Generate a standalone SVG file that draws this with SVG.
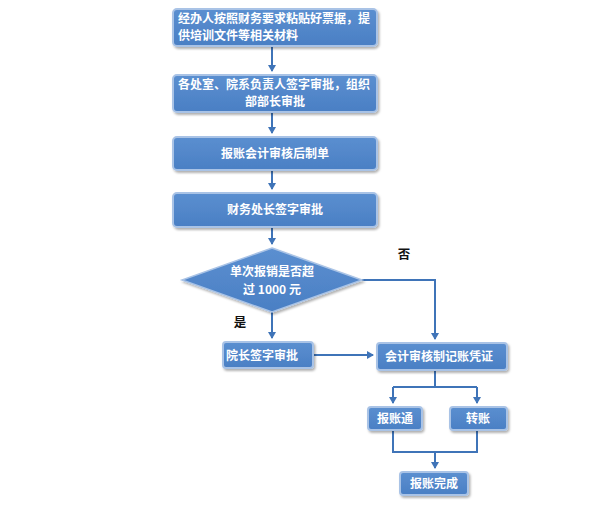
<svg xmlns="http://www.w3.org/2000/svg" width="600" height="509" viewBox="0 0 600 509">
<defs>
<linearGradient id="g" x1="0" y1="0" x2="0" y2="1">
<stop offset="0" stop-color="#5b8fd0"/>
<stop offset="1" stop-color="#4a7fc4"/>
</linearGradient>
<marker id="ah" markerWidth="8" markerHeight="8" refX="6" refY="4" orient="auto" markerUnits="userSpaceOnUse">
<path d="M0,0 L7,4 L0,8 Z" fill="#3f74b8"/>
</marker>
<filter id="sh" x="-10%" y="-20%" width="130%" height="150%">
<feDropShadow dx="1.5" dy="2" stdDeviation="1.2" flood-color="#000" flood-opacity="0.3"/>
</filter>
</defs>
<style>
.box{fill:url(#g);stroke:#a9c3e6;stroke-width:2;filter:url(#sh)}
.t{fill:#fff;font-family:"Noto Sans CJK SC","Liberation Sans",sans-serif;font-weight:bold;font-size:12px}
.c{text-anchor:middle}
.l{fill:#111;font-family:"Noto Sans CJK SC","Liberation Sans",sans-serif;font-weight:bold;font-size:12.5px}
.e{fill:none;stroke:#3f74b8;stroke-width:2}
</style>
<rect width="600" height="509" fill="#fff"/>
<g id="connectors">
<path class="e" d="M272,46 V71" marker-end="url(#ah)"/>
<path class="e" d="M272,113 V133" marker-end="url(#ah)"/>
<path class="e" d="M272,171 V189" marker-end="url(#ah)"/>
<path class="e" d="M272,228 V244" marker-end="url(#ah)"/>
<path class="e" d="M272,312 V338" marker-end="url(#ah)"/>
<path class="e" d="M362,280 H435 V339" marker-end="url(#ah)"/>
<path class="e" d="M314,355 H373" marker-end="url(#ah)"/>
<path class="e" d="M435,371 V387 H393 M435,387 H477"/>
<path class="e" d="M393,387 V403" marker-end="url(#ah)"/>
<path class="e" d="M477,387 V403" marker-end="url(#ah)"/>
<path class="e" d="M393,431 V452 H477 V431"/>
<path class="e" d="M435,452 V468" marker-end="url(#ah)"/>
</g>
<g id="n1"><rect class="box" x="173" y="9" width="204" height="37" rx="4"/>
<text class="t" x="178" y="23">经办人按照财务要求粘贴好票据，提</text>
<text class="t" x="178" y="40">供培训文件等相关材料</text></g>
<g id="n2"><rect class="box" x="173" y="75" width="204" height="37" rx="4"/>
<text class="t" x="178" y="89">各处室、院系负责人签字审批，组织</text>
<text class="t c" x="275" y="106">部部长审批</text></g>
<g id="n3"><rect class="box" x="173" y="137" width="204" height="33" rx="4"/>
<text class="t c" x="275" y="158">报账会计审核后制单</text></g>
<g id="n4"><rect class="box" x="173" y="193" width="204" height="34" rx="4"/>
<text class="t c" x="275" y="214">财务处长签字审批</text></g>
<g id="n5"><path class="box" d="M272,248 L362,280 L272,312 L182,280 Z" style="stroke-width:1.5"/>
<text class="t c" x="272" y="276">单次报销是否超</text>
<text class="t c" x="272" y="294">过 1000 元</text></g>
<g id="n6"><rect class="box" x="223" y="342" width="90" height="26" rx="3"/>
<text class="t c" x="262" y="360">院长签字审批</text></g>
<g id="n7"><rect class="box" x="377" y="343" width="130" height="27" rx="3"/>
<text class="t c" x="439" y="361">会计审核制记账凭证</text></g>
<g id="n8"><rect class="box" x="368" y="407" width="54" height="23" rx="3"/>
<text class="t c" x="395" y="423">报账通</text></g>
<g id="n9"><rect class="box" x="450" y="407" width="57" height="23" rx="3"/>
<text class="t c" x="478" y="423">转账</text></g>
<g id="n10"><rect class="box" x="400" y="472" width="68" height="23" rx="3"/>
<text class="t c" x="434" y="488">报账完成</text></g>
<g id="labels">
<text class="l c" x="404" y="259">否</text>
<text class="l c" x="240" y="327">是</text>
</g>
</svg>
